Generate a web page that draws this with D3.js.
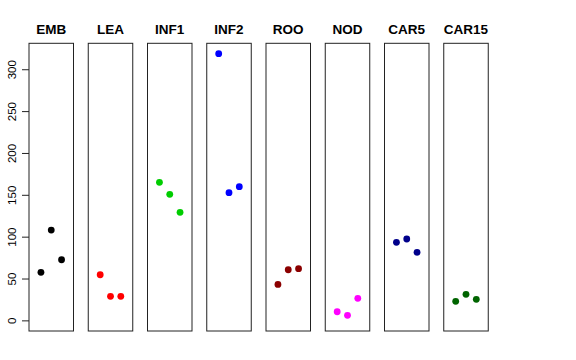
<!DOCTYPE html>
<html><head><meta charset="utf-8">
<script src="https://cdn.jsdelivr.net/npm/d3@7"></script>
<style>body{margin:0;background:#fff}svg{display:block}</style>
</head><body>
<svg id="c" width="576" height="360"></svg>
<script>
const categories = ["EMB","LEA","INF1","INF2","ROO","NOD","CAR5","CAR15"];
const colors = ["#000000","#FF0000","#00CD00","#0000FF","#8B0000","#FF00FF","#00008B","#006400"];
const replicates = [1,2,3];
const values = [
  [57.4,107.9,72.4],
  [54.5,28.7,28.7],
  [164.9,150.6,129.1],
  [318.6,152.5,159.7],
  [43.0,60.5,61.7],
  [10.3,6.0,26.3],
  [93.2,97.2,81.3],
  [22.7,31.1,25.1]
];
const yTicks = [0,50,100,150,200,250,300];

const svg = d3.select("#c");
const pTop = 43.3, pBottom = 331, panelW = 44.5, step = 59.25, left0 = 29;
const y = d3.scaleLinear().domain([-12.7, 331]).range([pBottom, pTop]);
const x = d3.scaleLinear().domain([-0.16, 4.16]).range([0, panelW]);
const font = "Liberation Sans, Arial, sans-serif";

categories.forEach((cat, i) => {
  const g = svg.append("g").attr("transform", `translate(${left0 + i*step},0)`);
  g.append("rect").attr("x",0).attr("y",pTop).attr("width",panelW).attr("height",pBottom-pTop)
    .attr("fill","none").attr("stroke","#222").attr("stroke-width",1);
  g.append("text").attr("x",panelW/2).attr("y",34).attr("text-anchor","middle")
    .attr("font-family",font).attr("font-weight","bold")
    .attr("font-size","13.5px").text(cat);
  g.selectAll("circle").data(values[i]).join("circle")
    .attr("cx",(d,j)=>x(replicates[j])).attr("cy",d=>y(d)).attr("r",3.4)
    .attr("fill",colors[i]);
});

const ax = svg.append("g").attr("transform",`translate(${left0},0)`)
  .call(d3.axisLeft(y).tickValues(yTicks).tickSize(7).tickPadding(4));
ax.select(".domain").remove();
ax.selectAll(".tick line").attr("stroke","#222");
ax.selectAll(".tick text")
  .attr("font-family",font).attr("font-size","11.5px").attr("fill","#000")
  .attr("x",0).attr("y",-14).attr("dy","0.35em").attr("text-anchor","middle")
  .attr("transform","rotate(-90)")
  .attr("dx",0);
// rotated: text position (x,y) in rotated frame => place via transform
ax.selectAll(".tick text").attr("transform","translate(-17,0) rotate(-90)").attr("y",0).attr("x",0);
</script>
</body></html>
